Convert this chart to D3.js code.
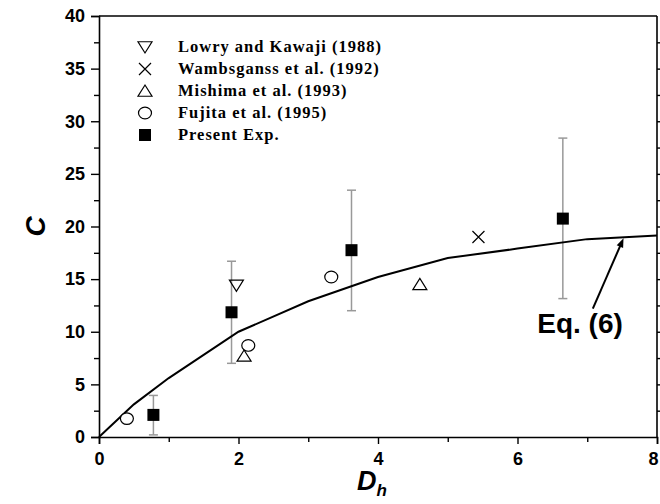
<!DOCTYPE html>
<html>
<head>
<meta charset="utf-8">
<script src="https://cdn.jsdelivr.net/npm/d3@7"></script>
<style>
  html, body { margin: 0; padding: 0; background: #fff; }
  svg { display: block; }
</style>
</head>
<body>
<svg id="chart" width="660" height="504"></svg>
<script>
// Present experiment: mean C with error-bar range
const presentDh = [0.78, 1.90, 3.62, 6.65];
const presentC = [2.1, 11.85, 17.75, 20.75];
const presentLow = [0.2, 7.0, 12.0, 13.15];
const presentHigh = [3.95, 16.7, 23.45, 28.4];

// Literature data
const lowryDh = [1.97];
const lowryC = [14.4];
const wambsganssDh = [5.44];
const wambsganssC = [19.0];
const mishimaDh = [2.08, 4.60];
const mishimaC = [7.7, 14.5];
const fujitaDh = [0.40, 2.14, 3.33];
const fujitaC = [1.75, 8.7, 15.2];

// Correlation curve, Eq. (6)
const eqDh = [0, 0.5, 1, 2, 3, 4, 5, 6, 7, 8];
const eqC = [0, 3.1, 5.6, 10.0, 12.9, 15.2, 17.0, 17.9, 18.8, 19.15];

const xTicks = [0, 2, 4, 6, 8];
const yTicks = [0, 5, 10, 15, 20, 25, 30, 35, 40];

const legendLabels = [
  "Lowry and Kawaji (1988)",
  "Wambsganss et al. (1992)",
  "Mishima et al. (1993)",
  "Fujita et al. (1995)",
  "Present Exp."
];
const legendSymbols = ["down", "cross", "up", "circle", "square"];

const svg = d3.select("#chart");
const margin = { left: 99, right: 3, top: 16, bottom: 67 };
const W = 660, H = 504;
const x = d3.scaleLinear().domain([0, 8]).range([margin.left, W - margin.right]);
const y = d3.scaleLinear().domain([0, 40]).range([H - margin.bottom, margin.top]);

const tickFont = "'Liberation Sans', Arial, sans-serif";

// Symbol drawing helper
function drawSymbol(g, type, cx, cy) {
  const s = 7;
  if (type === "down") {
    g.append("path")
      .attr("d", `M${cx - s},${cy - s * 0.75} L${cx + s},${cy - s * 0.75} L${cx},${cy + s * 0.85} Z`)
      .attr("fill", "none").attr("stroke", "#000").attr("stroke-width", 1.2);
  } else if (type === "up") {
    g.append("path")
      .attr("d", `M${cx - s},${cy + s * 0.75} L${cx + s},${cy + s * 0.75} L${cx},${cy - s * 0.85} Z`)
      .attr("fill", "none").attr("stroke", "#000").attr("stroke-width", 1.2);
  } else if (type === "cross") {
    const c = 6;
    g.append("path")
      .attr("d", `M${cx - c},${cy - c} L${cx + c},${cy + c} M${cx - c},${cy + c} L${cx + c},${cy - c}`)
      .attr("fill", "none").attr("stroke", "#000").attr("stroke-width", 1.2);
  } else if (type === "circle") {
    g.append("ellipse").attr("cx", cx).attr("cy", cy).attr("rx", 6.5).attr("ry", 5.8)
      .attr("fill", "#fff").attr("stroke", "#000").attr("stroke-width", 1.2);
  } else if (type === "square") {
    g.append("rect").attr("x", cx - 6).attr("y", cy - 6).attr("width", 12).attr("height", 12)
      .attr("fill", "#000");
  }
}

// Error bars for present experiment
const errG = svg.append("g");
presentDh.forEach((d, i) => {
  const px = x(d);
  errG.append("line").attr("x1", px).attr("x2", px)
    .attr("y1", y(presentLow[i])).attr("y2", y(presentHigh[i]))
    .attr("stroke", "#999").attr("stroke-width", 1.5);
  [presentLow[i], presentHigh[i]].forEach(v => {
    errG.append("line").attr("x1", px - 4.5).attr("x2", px + 4.5)
      .attr("y1", y(v)).attr("y2", y(v))
      .attr("stroke", "#999").attr("stroke-width", 1.5);
  });
});

// Eq. (6) curve
const line = d3.line().x(d => x(d[0])).y(d => y(d[1]));
svg.append("path")
  .attr("d", line(eqDh.map((d, i) => [d, eqC[i]])))
  .attr("fill", "none").attr("stroke", "#000").attr("stroke-width", 2);

// Markers
const mk = svg.append("g");
lowryDh.forEach((d, i) => drawSymbol(mk, "down", x(d), y(lowryC[i])));
wambsganssDh.forEach((d, i) => drawSymbol(mk, "cross", x(d), y(wambsganssC[i])));
mishimaDh.forEach((d, i) => drawSymbol(mk, "up", x(d), y(mishimaC[i])));
fujitaDh.forEach((d, i) => drawSymbol(mk, "circle", x(d), y(fujitaC[i])));
presentDh.forEach((d, i) => drawSymbol(mk, "square", x(d), y(presentC[i])));

// Axes
const xAxis = svg.append("g").attr("transform", `translate(0,${y(0)})`)
  .call(d3.axisBottom(x).tickValues(xTicks).tickFormat(d3.format("d")).tickSize(7).tickPadding(8));
const xMinor = svg.append("g").attr("transform", `translate(0,${y(0)})`)
  .call(d3.axisBottom(x).tickValues([1, 3, 5, 7]).tickFormat("").tickSize(5));
const yAxis = svg.append("g").attr("transform", `translate(${x(0)},0)`)
  .call(d3.axisLeft(y).tickValues(yTicks).tickFormat(d3.format("d")).tickSize(8).tickPadding(6));
const yMinor = svg.append("g").attr("transform", `translate(${x(0)},0)`)
  .call(d3.axisLeft(y).tickValues(d3.range(2.5, 40, 5)).tickFormat("").tickSize(5));
const yRight = svg.append("g").attr("transform", `translate(${x(8)},0)`)
  .call(d3.axisRight(y).tickValues(d3.range(2.5, 40, 2.5)).tickFormat("").tickSize(4));
const xTop = svg.append("g").attr("transform", `translate(0,${y(40)})`)
  .call(d3.axisTop(x).tickValues([]).tickSize(0));

[xAxis, xMinor, yAxis, yMinor, yRight, xTop].forEach(g => {
  g.select(".domain").attr("stroke", "#000").attr("stroke-width", 1.6);
  g.selectAll(".tick line").attr("stroke", "#000").attr("stroke-width", 1.4);
  g.selectAll(".tick text")
    .attr("font-family", tickFont).attr("font-weight", "bold")
    .attr("font-size", 18).attr("fill", "#000");
});
// keep the last x label inside the frame
xAxis.selectAll(".tick text").filter(d => d === 8).attr("dx", -4);
[xMinor, yMinor, yRight].forEach(g => g.select(".domain").remove());
yRight.append("line").attr("x1", 0).attr("x2", 0).attr("y1", y(0)).attr("y2", y(40))
  .attr("stroke", "#000").attr("stroke-width", 1.6);
xTop.select(".domain").attr("d", `M${x(0)},0H${x(8)}`);

// Axis titles
svg.append("text")
  .attr("transform", `translate(45,${y(20)}) rotate(-90)`)
  .attr("text-anchor", "middle")
  .attr("font-family", tickFont).attr("font-weight", "bold").attr("font-style", "italic")
  .attr("font-size", 28).text("C");

const xt = svg.append("text")
  .attr("x", x(4) - 6).attr("y", 490)
  .attr("text-anchor", "middle")
  .attr("font-family", tickFont).attr("font-weight", "bold").attr("font-style", "italic")
  .attr("font-size", 27);
xt.append("tspan").text("D");
xt.append("tspan").attr("font-size", 17).attr("dy", 6).text("h");

// Legend
const lg = svg.append("g");
legendLabels.forEach((lab, i) => {
  const cy = 47 + i * 22;
  drawSymbol(lg, legendSymbols[i], 145, cy);
  lg.append("text")
    .attr("x", 178).attr("y", cy + 5)
    .attr("font-family", "'Liberation Serif', 'Times New Roman', serif")
    .attr("font-weight", "bold").attr("font-size", 16.5)
    .attr("letter-spacing", 1)
    .text(lab);
});

// Eq. (6) annotation with arrow
const ann = svg.append("g");
const tail = [7.08, 12.2], head = [7.52, 18.88];
const hx = x(head[0]), hy = y(head[1]), tx = x(tail[0]), ty = y(tail[1]);
const ang = Math.atan2(hy - ty, hx - tx);
const al = 9, aw = 3.5;
ann.append("line")
  .attr("x1", tx).attr("y1", ty)
  .attr("x2", hx - Math.cos(ang) * al * 0.8).attr("y2", hy - Math.sin(ang) * al * 0.8)
  .attr("stroke", "#000").attr("stroke-width", 2);
const bx = hx - Math.cos(ang) * al, by = hy - Math.sin(ang) * al;
ann.append("path")
  .attr("d", `M${hx},${hy} L${bx - Math.sin(ang) * aw},${by + Math.cos(ang) * aw} L${bx + Math.sin(ang) * aw},${by - Math.cos(ang) * aw} Z`)
  .attr("fill", "#000");
ann.append("text")
  .attr("x", 580).attr("y", 333)
  .attr("text-anchor", "middle")
  .attr("font-family", tickFont).attr("font-weight", "bold")
  .attr("font-size", 28).text("Eq. (6)");
</script>
</body>
</html>
